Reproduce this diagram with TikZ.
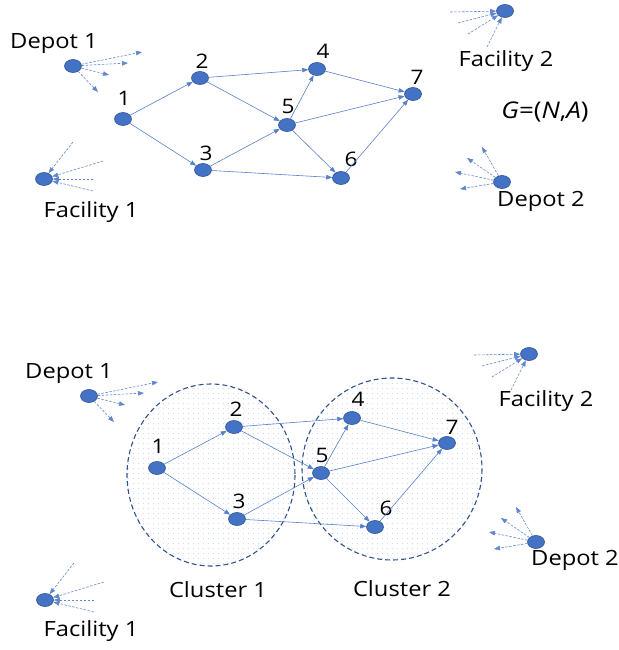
\documentclass[tikz,border=0pt]{standalone}
\usepackage{fontspec}
\setmainfont{Open Sans}[FakeStretch=1.13]
\usetikzlibrary{arrows.meta,patterns.meta,shapes.geometric}
\definecolor{nodeblue}{HTML}{4472C4}
\definecolor{nodeedge}{HTML}{2F528F}
\definecolor{dotblue}{HTML}{7D9CD6}

% square dot grid filling the clusters
\tikzdeclarepattern{
  name=clusterdots, type=uncolored,
  bounding box={(0pt,0pt) and (4.7pt,4.7pt)},
  tile size={(4.7pt,4.7pt)},
  code={\fill (2.35pt,2.35pt) circle (0.45pt);}
}

\tikzset{
  vtx/.style={ellipse, minimum width=17pt, minimum height=13pt, inner sep=0pt,
              fill=nodeblue, draw=nodeedge, line width=0.6pt},
  arc/.style={draw=nodeblue!90, line width=0.6pt,
              -{Triangle[length=6pt,width=4.5pt]}},
  flow/.style={draw=nodeblue!85, line width=0.6pt, dash pattern=on 2.5pt off 1.5pt,
              -{Triangle[length=6pt,width=4.5pt]}},
  lbl/.style={font=\fontsize{21}{25}\selectfont, inner sep=0pt},
  num/.style={font=\fontsize{20}{24}\selectfont, inner sep=0pt},
  cluster/.style={draw=nodeedge, line width=1.1pt, dash pattern=on 5pt off 3pt,
              pattern=clusterdots, pattern color=dotblue}
}

\begin{document}
\begin{tikzpicture}[x=1pt,y=-1pt]
\useasboundingbox (0,0) rectangle (618,650);

% ---------------- upper network ----------------
\node[vtx] (n1) at (123,119) {};
\node[vtx] (n2) at (200,78) {};
\node[vtx] (n3) at (203,170) {};
\node[vtx] (n4) at (317,69) {};
\node[vtx] (n5) at (287,125) {};
\node[vtx] (n6) at (341,178) {};
\node[vtx] (n7) at (413,94) {};
\node[num] (t1) at (124,98) {1};
\node[num] (t2) at (202,61) {2};
\node[num] (t3) at (206,153) {3};
\node[num] (t4) at (323,51) {4};
\node[num] (t5) at (288,106) {5};
\node[num] (t6) at (351,159) {6};
\node[num] (t7) at (417,77) {7};

\draw[arc] (n1) -- (n2);
\draw[arc] (n1) -- (n3);
\draw[arc] (n2) -- (n4);
\draw[arc] (n2) -- (n5);
\draw[arc] (n3) -- (n5);
\draw[arc] (n3) -- (n6);
\draw[arc] (n5) -- (n4);
\draw[arc] (n5) -- (n7);
\draw[arc] (n5) -- (n6);
\draw[arc] (n4) -- (n7);
\draw[arc] (n6) -- (n7);

% depots and facilities
\node[vtx] (d1) at (73,66) {};
\node[lbl] (d1t) at (54,44) {Depot 1};
\coordinate (d1a) at (142,52);
\coordinate (d1b) at (128,63);
\coordinate (d1c) at (109,75);
\coordinate (d1d) at (98,92);
\foreach \c in {d1a,d1b,d1c,d1d} \draw[flow] (d1) -- (\c);

\node[vtx] (f1) at (44,179) {};
\node[lbl] (f1t) at (91,212) {Facility 1};
\coordinate (f1a) at (73,142);
\coordinate (f1b) at (103,161);
\coordinate (f1c) at (93,179);
\coordinate (f1d) at (93,191);
\foreach \c in {f1a,f1b,f1c,f1d} \draw[flow] (\c) -- (f1);

\node[vtx] (f2) at (505,11) {};
\node[lbl] (f2t) at (506,61) {Facility 2};
\coordinate (f2a) at (450,12);
\coordinate (f2b) at (458,23);
\coordinate (f2c) at (468,34);
\coordinate (f2d) at (487,47);
\foreach \c in {f2a,f2b,f2c,f2d} \draw[flow] (\c) -- (f2);

\node[vtx] (d2) at (502,182) {};
\node[lbl] (d2t) at (541,201) {Depot 2};
\coordinate (d2a) at (482,147);
\coordinate (d2b) at (467,158);
\coordinate (d2c) at (455,172);
\coordinate (d2d) at (460,189);
\foreach \c in {d2a,d2b,d2c,d2d} \draw[flow] (d2) -- (\c);

\node[lbl, font=\fontsize{23}{27}\selectfont] (gna) at (545,112)
  {\itshape G\upshape=(\itshape N\upshape,\itshape A\upshape)};

% ---------------- lower network with clusters ----------------
\path[cluster] (211,475) ellipse [x radius=84, y radius=91];
\path[cluster] (392,469) ellipse [x radius=90, y radius=91];
\node[lbl] (c1t) at (218,590) {Cluster 1};
\node[lbl] (c2t) at (402,589) {Cluster 2};

\node[vtx] (m1) at (157,468) {};
\node[vtx] (m2) at (234,427) {};
\node[vtx] (m3) at (237,519) {};
\node[vtx] (m4) at (352,418) {};
\node[vtx] (m5) at (321,473) {};
\node[vtx] (m6) at (375,527) {};
\node[vtx] (m7) at (447,443) {};
\node[num] (s1) at (158,446) {1};
\node[num] (s2) at (236,409) {2};
\node[num] (s3) at (239,501) {3};
\node[num] (s4) at (358,399) {4};
\node[num] (s5) at (322,455) {5};
\node[num] (s6) at (386,508) {6};
\node[num] (s7) at (452,427) {7};

\draw[arc] (m1) -- (m2);
\draw[arc] (m1) -- (m3);
\draw[arc] (m2) -- (m4);
\draw[arc] (m2) -- (m5);
\draw[arc] (m3) -- (m5);
\draw[arc] (m3) -- (m6);
\draw[arc] (m5) -- (m4);
\draw[arc] (m5) -- (m7);
\draw[arc] (m5) -- (m6);
\draw[arc] (m4) -- (m7);
\draw[arc] (m6) -- (m7);

\node[vtx] (e1) at (89,396) {};
\node[lbl] (e1t) at (69,374) {Depot 1};
\coordinate (e1a) at (158,382);
\coordinate (e1b) at (144,393);
\coordinate (e1c) at (125,405);
\coordinate (e1d) at (114,422);
\foreach \c in {e1a,e1b,e1c,e1d} \draw[flow] (e1) -- (\c);

\node[vtx] (g1) at (45,600) {};
\node[lbl] (g1t) at (91,631) {Facility 1};
\coordinate (g1a) at (74,563);
\coordinate (g1b) at (104,582);
\coordinate (g1c) at (94,600);
\coordinate (g1d) at (94,612);
\foreach \c in {g1a,g1b,g1c,g1d} \draw[flow] (\c) -- (g1);

\node[vtx] (g2) at (529,354) {};
\node[lbl] (g2t) at (546,401) {Facility 2};
\coordinate (g2a) at (474,355);
\coordinate (g2b) at (482,366);
\coordinate (g2c) at (492,377);
\coordinate (g2d) at (511,390);
\foreach \c in {g2a,g2b,g2c,g2d} \draw[flow] (\c) -- (g2);

\node[vtx] (e2) at (536,542) {};
\node[lbl] (e2t) at (575,560) {Depot 2};
\coordinate (e2a) at (516,507);
\coordinate (e2b) at (501,518);
\coordinate (e2c) at (489,532);
\coordinate (e2d) at (494,549);
\foreach \c in {e2a,e2b,e2c,e2d} \draw[flow] (e2) -- (\c);
\end{tikzpicture}
\end{document}
